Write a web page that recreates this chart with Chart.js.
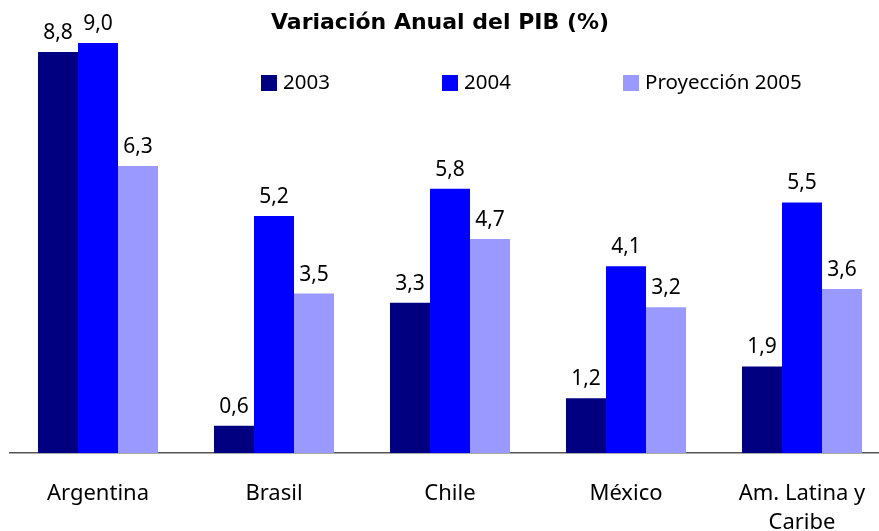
<!DOCTYPE html>
<html>
<head>
<meta charset="utf-8">
<script src="https://cdn.jsdelivr.net/npm/chart.js@4/dist/chart.umd.min.js"></script>
<style>
  html, body { margin:0; padding:0; background:#fff; overflow:hidden; }
  #wrap { width:890px; height:531px; position:relative; }
</style>
</head>
<body>
<div id="wrap"><canvas id="chart"></canvas></div>
<script>
const categories = ['Argentina', 'Brasil', 'Chile', 'México', ['Am. Latina y', 'Caribe']];
const seriesNames = ['2003', '2004', 'Proyección 2005'];
const values2003 = [8.8, 0.6, 3.3, 1.2, 1.9];
const values2004 = [9.0, 5.2, 5.8, 4.1, 5.5];
const values2005 = [6.3, 3.5, 4.7, 3.2, 3.6];
const colors = ['#000080', '#0000ff', '#9999ff'];

const FONT = '"Noto Sans", "DejaVu Sans", sans-serif';

// title + legend with evenly spaced columns, like the original
const headerPlugin = {
  id: 'header',
  afterDraw(chart){
    const ctx = chart.ctx;
    ctx.save();
    ctx.fillStyle = '#000';
    ctx.font = 'bold 22px "DejaVu Sans", sans-serif';
    ctx.textAlign = 'center';
    ctx.textBaseline = 'middle';
    ctx.fillText('Variación Anual del PIB (%)', 440, 23);

    ctx.font = '20.5px ' + FONT;
    ctx.textAlign = 'left';
    chart.data.datasets.forEach((ds, i) => {
      const x = 261 + i * 181;
      ctx.fillStyle = ds.backgroundColor;
      ctx.fillRect(x, 75, 16, 16);
      ctx.fillStyle = '#000';
      ctx.fillText(ds.label, x + 22, 83);
    });
    ctx.restore();
  }
};

const valueLabels = {
  id: 'valueLabels',
  afterDatasetsDraw(chart){
    const ctx = chart.ctx;
    ctx.save();
    ctx.font = '21px ' + FONT;
    ctx.fillStyle = '#000';
    ctx.textAlign = 'center';
    ctx.textBaseline = 'middle';
    chart.data.datasets.forEach((ds, i) => {
      chart.getDatasetMeta(i).data.forEach((bar, j) => {
        const txt = ds.data[j].toFixed(1).replace('.', ',');
        ctx.fillText(txt, bar.x, bar.y - 19);
      });
    });
    ctx.restore();
  }
};

new Chart(document.getElementById('chart'), {
  type: 'bar',
  data: {
    labels: categories,
    datasets: [
      { label: seriesNames[0], data: values2003, backgroundColor: colors[0] },
      { label: seriesNames[1], data: values2004, backgroundColor: colors[1] },
      { label: seriesNames[2], data: values2005, backgroundColor: colors[2] }
    ]
  },
  options: {
    responsive: true,
    maintainAspectRatio: false,
    animation: false,
    layout: { padding: { top: 43, left: 10, right: 0, bottom: 0 } },
    datasets: { bar: { categoryPercentage: 0.682, barPercentage: 1.0, borderWidth: 0 } },
    plugins: {
      legend: { display: false },
      title: { display: false },
      tooltip: { enabled: false }
    },
    scales: {
      x: {
        grid: { display: false },
        border: { display: true, color: '#555', width: 1.5 },
        ticks: { color: '#000', font: { family: FONT, size: 22, lineHeight: 1.32 }, padding: 18, maxRotation: 0, autoSkip: false },
        afterFit(scale){ scale.height = 78; }
      },
      y: {
        display: false,
        min: 0,
        max: 9.0
      }
    }
  },
  plugins: [headerPlugin, valueLabels]
});
</script>
</body>
</html>
